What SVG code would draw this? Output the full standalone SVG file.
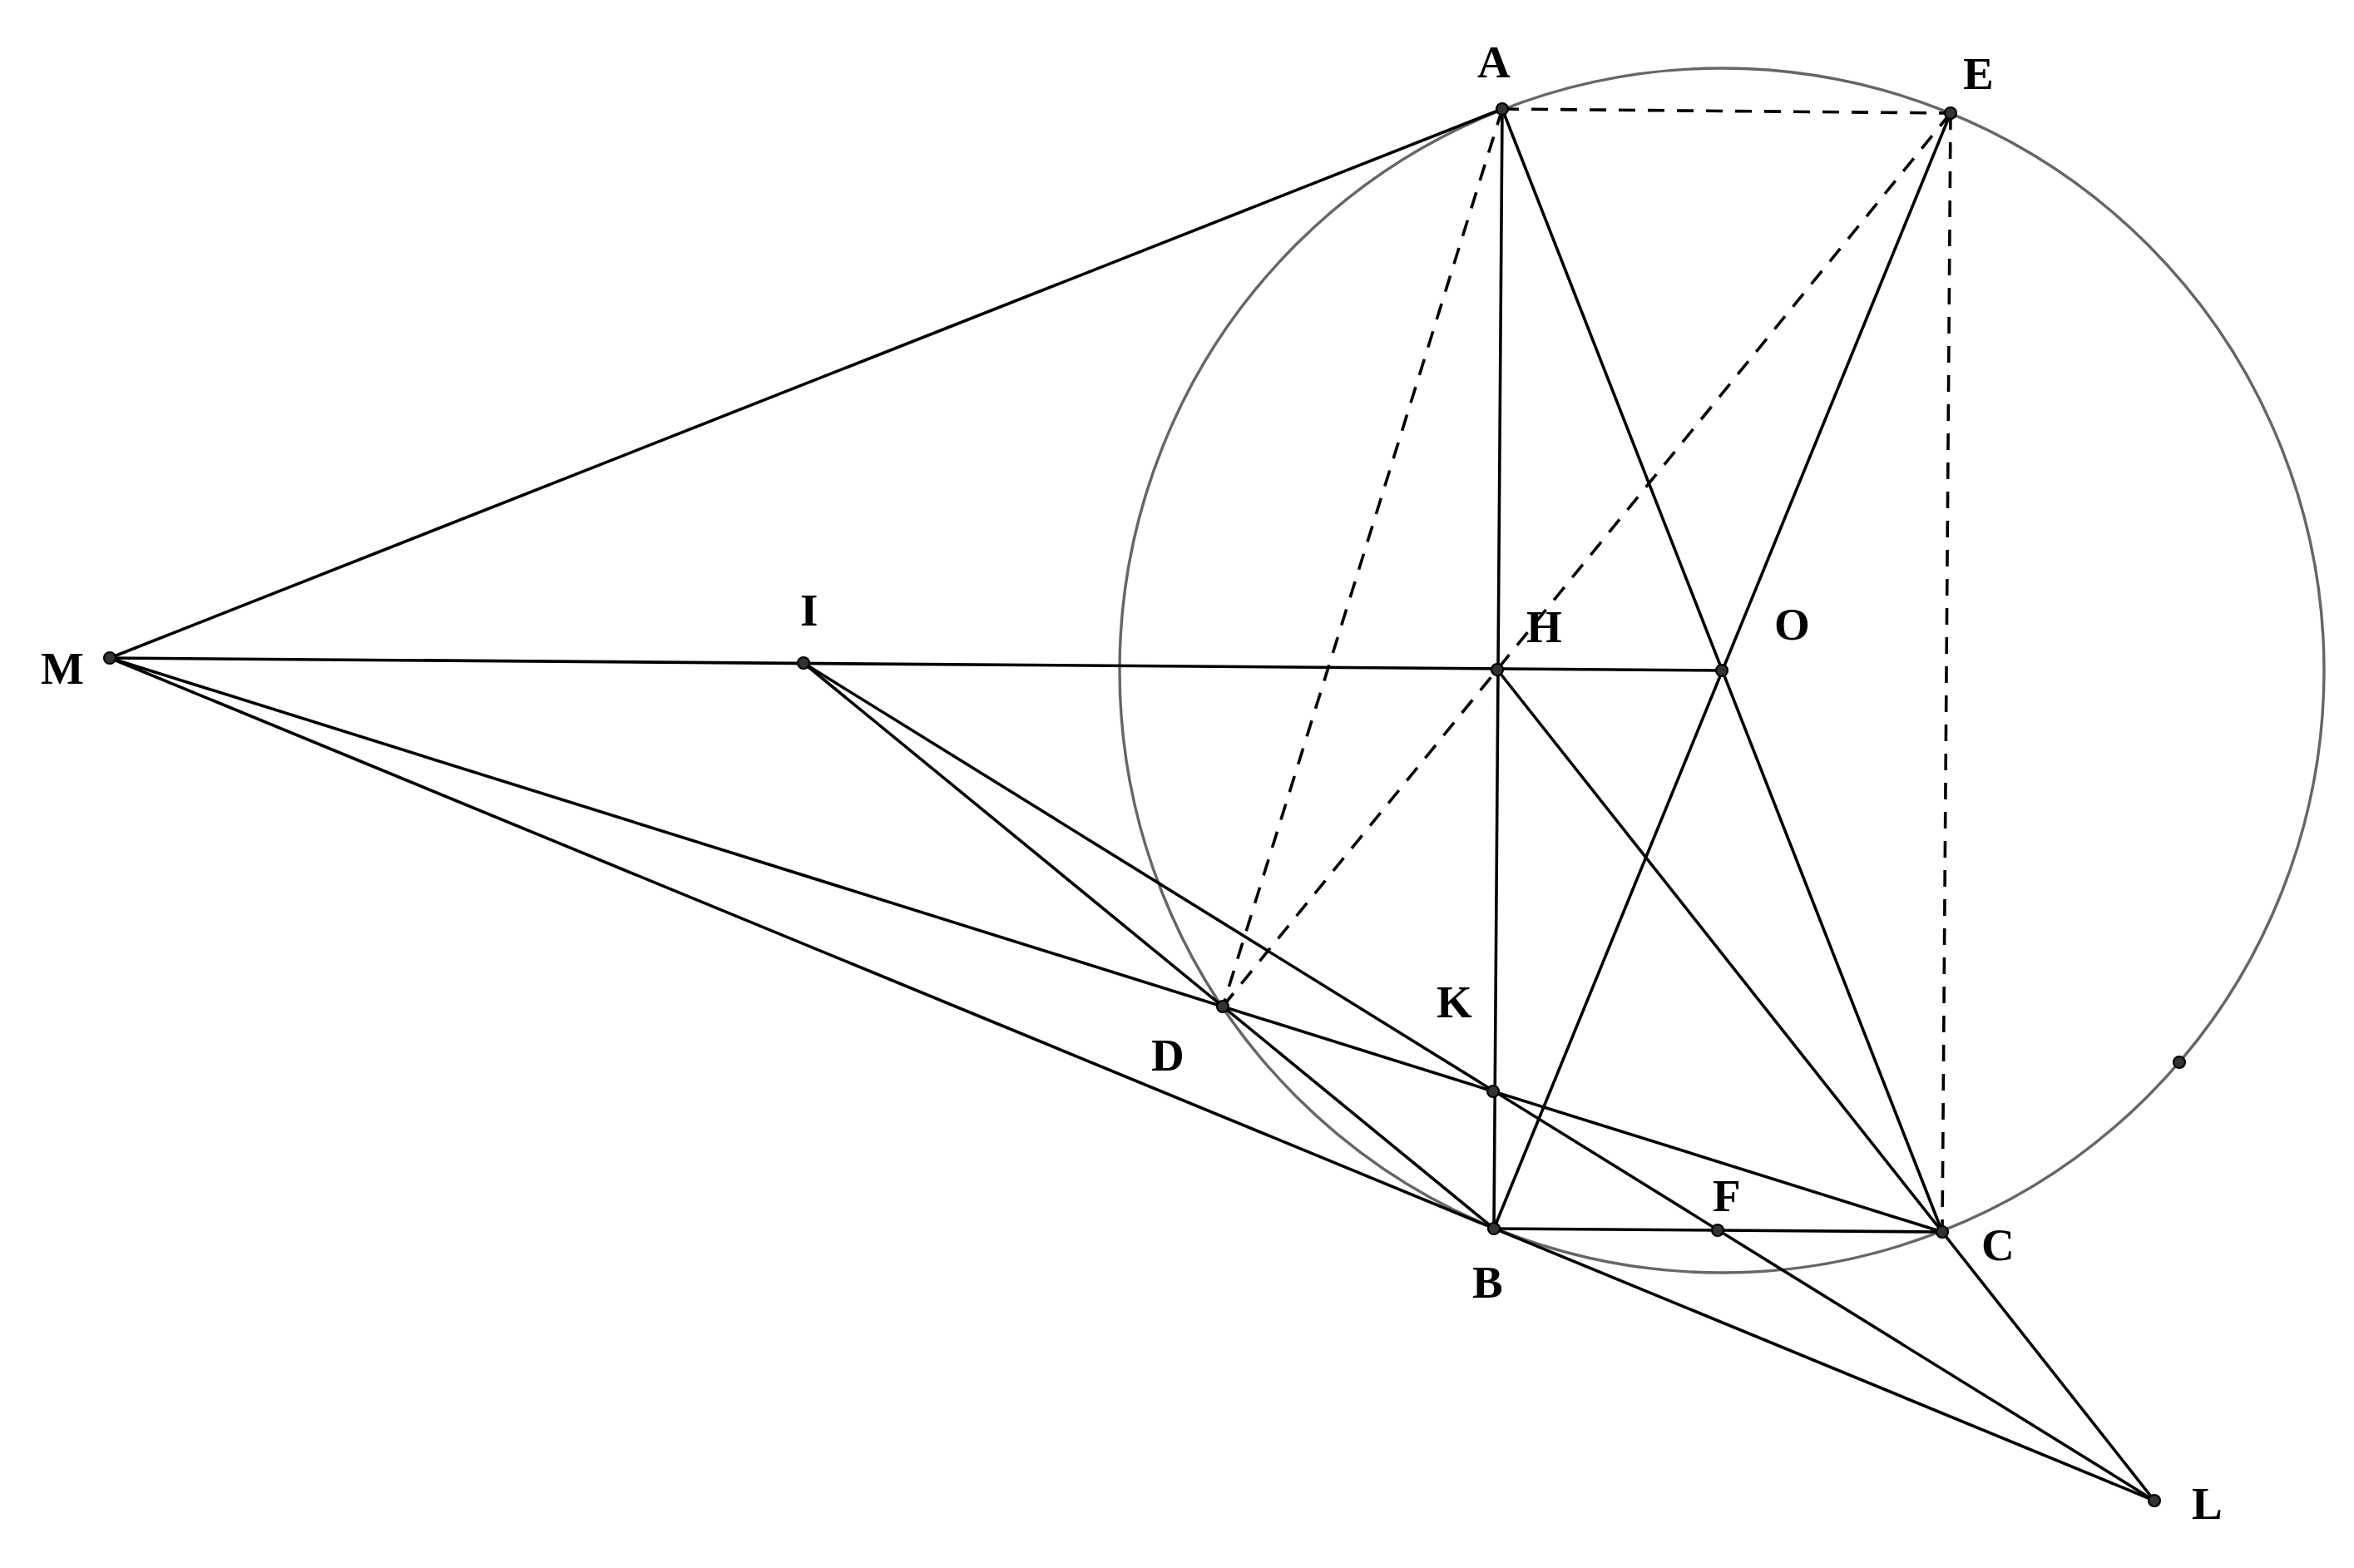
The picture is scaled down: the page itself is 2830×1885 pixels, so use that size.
<svg xmlns="http://www.w3.org/2000/svg" width="2830" height="1885" viewBox="0 0 2830 1885">
<style>
.ln{stroke:#000;stroke-width:3.6;fill:none;stroke-linecap:round}
.ds{stroke:#000;stroke-width:3.6;fill:none;stroke-dasharray:20 15}
.cir{stroke:#666;stroke-width:3.4;fill:none}
.pt{fill:#333;stroke:#000;stroke-width:2.2}
.lb{font-family:"Liberation Serif","Times New Roman",serif;font-weight:bold;font-size:55px;fill:#000}
</style>
<rect width="2830" height="1885" fill="#fff"/>
<circle id="circle" class="cir" cx="2070" cy="806" r="724"/>
<g id="connectors">
<line class="ln" x1="132" y1="791" x2="1806" y2="131"/>
<line class="ln" x1="132" y1="791" x2="2070" y2="806"/>
<line class="ln" x1="132" y1="791" x2="2335" y2="1481"/>
<line class="ln" x1="132" y1="791" x2="2590" y2="1804"/>
<line class="ln" x1="966" y1="797" x2="1796" y2="1477"/>
<line class="ln" x1="966" y1="797" x2="2590" y2="1804"/>
<line class="ln" x1="1806" y1="131" x2="1796" y2="1477"/>
<line class="ln" x1="1806" y1="131" x2="2335" y2="1481"/>
<line class="ln" x1="2345" y1="136" x2="1796" y2="1477"/>
<line class="ln" x1="1800" y1="805" x2="2335" y2="1481"/>
<line class="ln" x1="2335" y1="1481" x2="2590" y2="1804"/>
<line class="ln" x1="1796" y1="1477" x2="2335" y2="1481"/>
<line class="ds" x1="1806" y1="131" x2="2345" y2="136"/>
<line class="ds" x1="1806" y1="131" x2="1470" y2="1210"/>
<line class="ds" x1="2345" y1="136" x2="1470" y2="1210"/>
<line class="ds" x1="2345" y1="136" x2="2335" y2="1481"/>
</g>
<g id="A"><circle class="pt" cx="1806" cy="131" r="7"/><text class="lb" x="1776" y="93">A</text></g>
<g id="E"><circle class="pt" cx="2345" cy="136" r="7"/><text class="lb" x="2360" y="107">E</text></g>
<g id="M"><circle class="pt" cx="132" cy="791" r="7"/><text class="lb" x="49" y="822">M</text></g>
<g id="I"><circle class="pt" cx="966" cy="797" r="7"/><text class="lb" x="962" y="752">I</text></g>
<g id="H"><circle class="pt" cx="1800" cy="805" r="7"/><text class="lb" x="1835" y="772">H</text></g>
<g id="O"><circle class="pt" cx="2070" cy="806" r="7"/><text class="lb" x="2133" y="769">O</text></g>
<g id="D"><circle class="pt" cx="1470" cy="1210" r="7"/><text class="lb" x="1384" y="1287">D</text></g>
<g id="K"><circle class="pt" cx="1795" cy="1312" r="7"/><text class="lb" x="1727" y="1223">K</text></g>
<g id="B"><circle class="pt" cx="1796" cy="1477" r="7"/><text class="lb" x="1770" y="1560">B</text></g>
<g id="F"><circle class="pt" cx="2065" cy="1479" r="7"/><text class="lb" x="2059" y="1456">F</text></g>
<g id="C"><circle class="pt" cx="2335" cy="1481" r="7"/><text class="lb" x="2382" y="1515">C</text></g>
<g id="L"><circle class="pt" cx="2590" cy="1804" r="7"/><text class="lb" x="2635" y="1826">L</text></g>
<g id="P"><circle class="pt" cx="2620" cy="1277" r="7"/></g>
</svg>
